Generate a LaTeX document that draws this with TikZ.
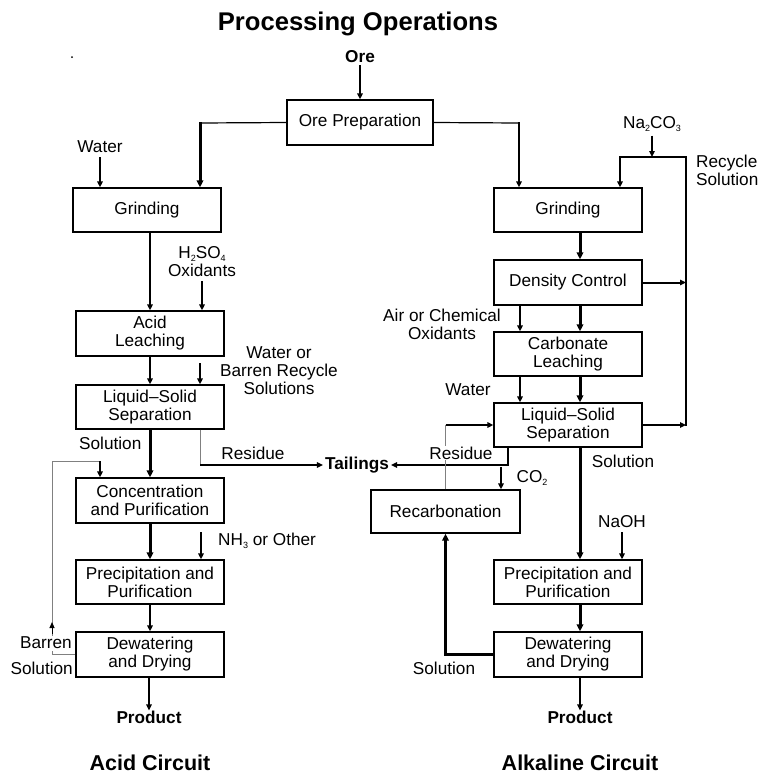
\documentclass[tikz,border=0pt]{standalone}
\usepackage{fontspec}
\setmainfont{Liberation Sans}
\usetikzlibrary{arrows.meta,calc}
\newcommand{\lbl}{\fontsize{17.2}{18}\selectfont}
\newcommand{\blbl}{\fontsize{17.2}{18}\selectfont\bfseries}
\newcommand{\ttl}{\fontsize{25.6}{28}\selectfont\bfseries}
\newcommand{\clbl}{\fontsize{21.5}{23}\selectfont\bfseries}
% small lowered index used in chemical formulas
\newcommand{\dn}[1]{\raisebox{-2.5pt}{\fontsize{9}{9}\selectfont #1}}
\begin{document}
\begin{tikzpicture}[x=1pt,y=-1pt,
  box/.style={draw,line width=1.3pt,minimum width=148pt,minimum height=44pt,inner sep=0pt,align=center,font=\lbl},
  lab/.style={inner sep=0pt,align=center,font=\lbl},
  blab/.style={inner sep=0pt,align=center,font=\blbl},
  flow/.style={line width=2pt,-{Triangle[length=6pt,width=5.5pt]}},
  heavy/.style={line width=3pt,-{Triangle[length=7pt,width=6.5pt]}},
  thinline/.style={line width=1.2pt},
  greyline/.style={line width=1pt,draw=gray}
]
\useasboundingbox (0,0) rectangle (759,774);

% heading and feed
\node[blab,font=\ttl] (title) at (358,24) {Processing Operations};
\fill (72,57) circle (1);
\node[blab] (ore) at (360,57) {Ore};
\node[box,minimum width=146pt,minimum height=45pt] (orep) at (360,122.5) {Ore Preparation};
\draw[flow,shorten <=2pt] (ore.south) -- (orep.north);

% ---------------- acid circuit ----------------
\node[box] (lgrind) at (147,210) {Grinding};
\node[box,minimum height=45pt] (leach) at (150,333.5) {Acid\\Leaching};
\node[box] (lsep) at (150,407) {Liquid–Solid\\Separation};
\node[box,minimum height=45pt] (conc) at (150,500.5) {Concentration\\and Purification};
\node[box] (lprec) at (150,582) {Precipitation and\\Purification};
\node[box,minimum height=45pt] (ldew) at (150,654.5) {Dewatering\\and Drying};
\node[blab] (lprod) at (149,717) {Product};
\node[blab,font=\clbl] (lcirc) at (150,763) {Acid Circuit};

\coordinate (lsplit) at (200,123);
\draw[thinline] (orep.west) -- (lsplit);
\draw[heavy] ([yshift=1pt]lsplit) -- (lsplit |- lgrind.north);

\node[lab] (water1) at (100,147) {Water};
\draw[flow,shorten <=4pt] (water1.south) -- (water1.south |- lgrind.north);
\draw[flow] (lgrind.south -| leach.north) -- (leach.north);

\node[lab] (h2so4) at (202,262) {H\dn{2}SO\dn{4}\\Oxidants};
\draw[flow,shorten <=4pt] (h2so4.south) -- (h2so4.south |- leach.north);

\draw[flow] (leach.south) -- (lsep.north);
\node[lab] (wbr) at (279,371) {Water or\\Barren Recycle\\Solutions};
\coordinate (wbrin) at (200,363);
\draw[flow] (wbrin) -- (wbrin |- lsep.north);

\node[lab,anchor=west] (sol1) at (79,443) {Solution};
\draw[heavy] (lsep.south) -- (conc.north);

\node[blab] (tail) at (357,465) {Tailings};
\coordinate (lres) at (200,465);
\draw[greyline] (lres |- lsep.south) -- (lres);
\draw[flow,shorten >=2pt] (lres) -- (tail.west);
\node[lab] (res1) at (253,453) {Residue};

% barren solution return
\coordinate (bl1) at (52,654.5);
\coordinate (bl2) at (52,461);
\coordinate (bl3) at (100,461);
\draw[greyline] (ldew.west) -- (bl1) -- (bl2) -- (bl3);
\draw[flow] (bl3) -- (bl3 |- conc.north);
\coordinate (blup) at (52,634);
\draw[line width=1pt,-{Triangle[length=6pt,width=5pt]}] (blup) -- ++(0,-12);
\node[lab,fill=white,inner ysep=1.5pt,anchor=east] (barren) at (72,643) {Barren};
\node[lab,fill=white,inner ysep=1.5pt,anchor=east] (bsol) at (73,668) {Solution};

\draw[heavy] (conc.south) -- (lprec.north);
\coordinate (nh3in) at (201,532);
\draw[flow] (nh3in) -- (nh3in |- lprec.north);
\node[lab,anchor=west] (nh3) at (218,541) {NH\dn{3} or Other};
\draw[flow] (lprec.south) -- (ldew.north);
\draw[flow] (ldew.south -| lprod.north) -- (lprod.north);

% ---------------- alkaline circuit ----------------
\node[box] (rgrind) at (568,210) {Grinding};
\node[box,minimum height=45pt] (dens) at (568,282.5) {Density Control};
\node[box] (carb) at (568,354) {Carbonate\\Leaching};
\node[box] (rsep) at (568,425) {Liquid–Solid\\Separation};
\node[box,minimum width=149pt,minimum height=43pt] (recarb) at (445.5,511.5) {Recarbonation};
\node[box] (rprec) at (568,582) {Precipitation and\\Purification};
\node[box,minimum height=45pt] (rdew) at (568,654.5) {Dewatering\\and Drying};
\node[blab] (rprod) at (580,717) {Product};
\node[blab,font=\clbl] (rcirc) at (580,763) {Alkaline Circuit};

\coordinate (rsplit) at (519,123);
\draw[thinline] (orep.east) -- (rsplit);
\draw[flow] ([yshift=0.6pt]rsplit) -- (rsplit |- rgrind.north);

% recycle solution loop
\node[lab] (na2co3) at (652,124) {Na\dn{2}CO\dn{3}};
\coordinate (rcl) at (620,157);
\coordinate (rcr) at (686,157);
\coordinate (rcb) at (686,426);
\draw[flow,shorten <=4pt] (na2co3.south) -- (na2co3.south |- rcl);
\draw[thinline] (rcl) -- (rcr) -- (rcb);
\draw[flow] ([yshift=0.6pt]rcl) -- (rcl |- rgrind.north);
\node[lab,anchor=west,align=left] (recy) at (696,170) {Recycle\\Solution};

\coordinate (gx) at (580,0);
\coordinate (ox) at (520,0);
\draw[heavy] (rgrind.south -| gx) -- (dens.north -| gx);
\draw[flow] (dens.east) -- (dens.east -| rcb);
\node[lab] (airox) at (442,324) {Air or Chemical\\Oxidants};
\draw[flow] (dens.south -| ox) -- (carb.north -| ox);
\draw[heavy] (dens.south -| gx) -- (carb.north -| gx);
\node[lab] (water2) at (468,390) {Water};
\draw[flow] (carb.south -| ox) -- (rsep.north -| ox);
\draw[heavy] (carb.south -| gx) -- (rsep.north -| gx);
\draw[flow] (rsep.east) -- (rsep.east -| rcb);

% residue to tailings and recarbonation
\coordinate (rres) at (508,465);
\draw[flow,shorten >=2pt] (rsep.south -| rres) -- (rres) -- (tail.east);
\coordinate (rl1) at (445.5,425);
\draw[greyline] (recarb.north) -- (rl1);
\draw[flow] (rl1) -- (rsep.west);
\node[lab,fill=white,inner ysep=1pt] (res2) at (461,453) {Residue};
\coordinate (co2in) at (501,467);
\draw[flow] (co2in) -- (co2in |- recarb.north);
\node[lab] (co2) at (532,478) {CO\dn{2}};

\node[lab] (sol2) at (623,461) {Solution};
\draw[heavy] (rsep.south -| gx) -- (rprec.north -| gx);
\node[lab] (naoh) at (622,522) {NaOH};
\draw[flow,shorten <=4pt] (naoh.south) -- (naoh.south |- rprec.north);
\draw[heavy] (rprec.south -| gx) -- (rdew.north -| gx);
\draw[flow] (rdew.south -| gx) -- (rprod.north);
\draw[heavy] (rdew.west) -| (recarb.south);
\node[lab] (sol3) at (444,668) {Solution};
\end{tikzpicture}
\end{document}
